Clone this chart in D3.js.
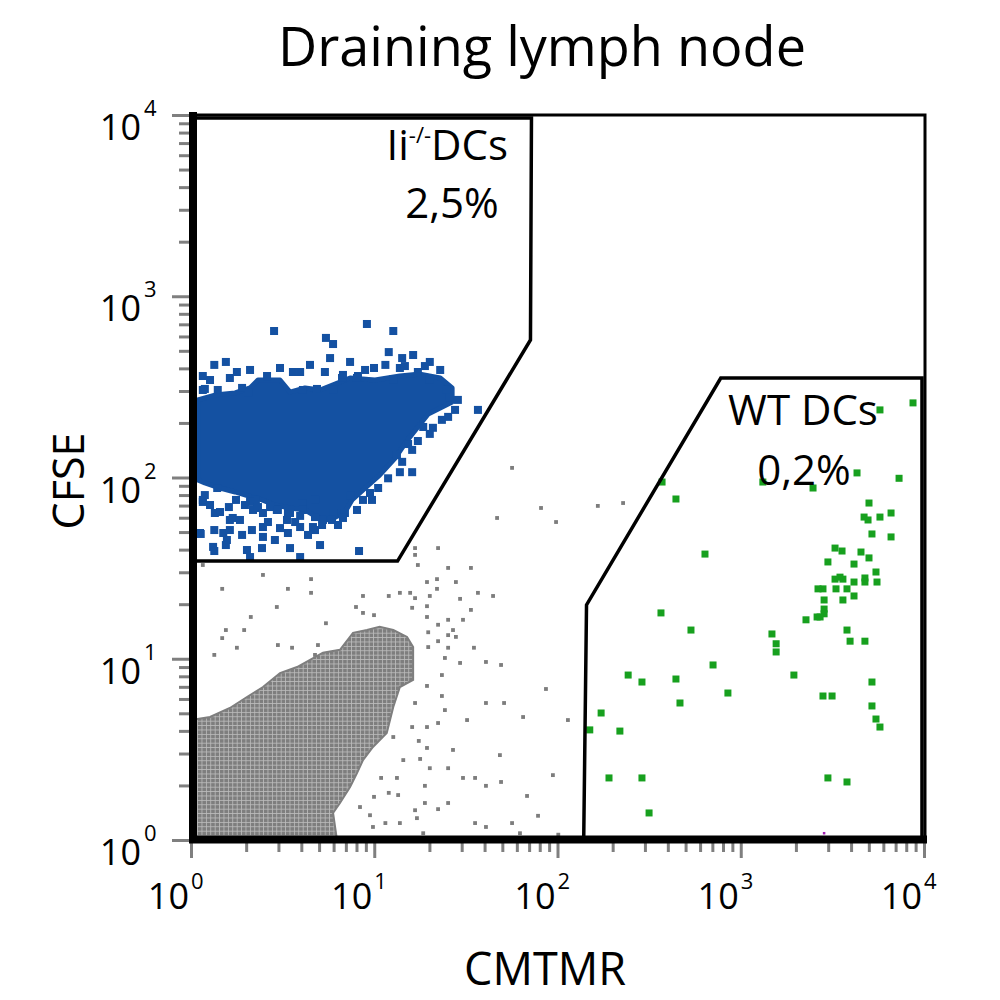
<!DOCTYPE html>
<html><head><meta charset="utf-8">
<script src="https://cdn.jsdelivr.net/npm/d3@7"></script>
<style>body{margin:0;background:#fff}</style>
</head><body>
<svg id="chart" width="1000" height="1000"></svg>
<script>
// ---------- DATA ----------
const decades = [1, 10, 100, 1000, 10000];
const decadeExponents = ["0", "1", "2", "3", "4"];
const chartTitle = "Draining lymph node";
const xTitle = "CMTMR";
const yTitle = "CFSE";

// Gates (CMTMR, CFSE)
const iiGateCMTMR = [1, 72.1, 71.2, 13.4, 1];
const iiGateCFSE  = [9620, 9620, 574, 34.6, 34.6];
const wtGateCMTMR = [139, 144, 778, 9750, 9750];
const wtGateCFSE  = [1, 19.8, 354, 354, 1];

// Dense unlabelled population (outline of the saturated region)
const negCoreCMTMR = [1, 1, 1.27, 1.63, 2.02, 2.47, 3.06, 3.79, 5.25, 6.50, 7.66, 9.12, 10.7, 12.7, 15.1, 16.3, 16.3, 13.8, 12.7, 11.7, 9.84, 8.68, 8.05, 7.38, 6.50, 5.96, 6.26];
const negCoreCFSE  = [1, 4.59, 4.77, 5.35, 6.15, 6.98, 8.34, 9.00, 10.8, 11.2, 13.9, 14.4, 15.0, 14.4, 13.2, 11.6, 7.64, 6.98, 5.42, 3.89, 3.26, 2.76, 2.34, 1.96, 1.60, 1.41, 1];

// Scattered unlabelled events
const negCMTMR = [2.47,1.48,4.52,3.38,4.52,2.94,2.12,1.55,1.95,1.48,1.78,1.34,2.98,3.56,4.75,4.93,5.45,16.7,22.3,16.7,17.3,25.3,33.7,19.4,22.0,27.9,22.0,36.8,44.5,8.68,12.0,13.8,15.7,16.7,20.1,29.4,7.95,8.68,16.1,19.4,33.7,9.97,19.4,30.5,25.3,22.3,26.9,19.7,22.3,25.3,27.9,25.3,35.0,19.7,24.3,29.4,40.7,49.2,23.4,19.4,23.4,16.7,24.3,40.7,51.1,64.9,86.5,114,32.1,22.3,19.4,16.1,12.7,17.5,19.4,26.9,48.5,14.4,17.8,20.1,25.3,30.5,35.5,94.4,40.7,49.2,13.3,10.9,18.9,12.0,13.5,9.97,68.2,25.3,22.3,18.9,16.7,17.1,78.3,35.5,40.7,56.5,13.8,11.5,9.84,18.5,62.4,101,8.36,9.48,46.8,1.16,56.5,81.3,98.2,166,228];
const negCFSE  = [29.0,24.3,27.5,24.3,23.1,19.3,17.0,14.4,14.4,13.0,11.5,10.5,11.9,11.5,10.5,11.9,15.7,40.8,40.8,37.4,32.9,31.7,31.7,26.5,27.5,26.5,24.3,23.1,22.2,22.2,22.2,23.1,23.1,21.6,22.2,21.4,19.3,17.9,19.1,19.5,18.6,17.4,17.0,16.4,16.4,15.4,14.4,14.0,12.5,13.5,13.2,11.5,11.5,11.6,10.1,9.48,9.60,9.24,8.13,7.08,6.23,5.70,5.21,5.70,5.70,4.77,6.81,4.59,4.59,4.42,4.20,4.20,3.70,3.52,3.22,3.14,2.94,2.76,2.80,2.49,2.49,2.20,2.20,2.28,1.99,2.09,2.20,2.20,1.99,1.82,1.77,1.73,1.75,1.60,1.48,1.60,1.46,1.32,1.36,1.24,1.18,1.24,1.24,1.24,1.18,1.09,1.09,1.07,1.52,1.37,59.8,32.9,113,67.9,56.8,69.7,72.3];

// Ii-/- DCs: dense core outline + individual events
const iiCoreCMTMR = [1.09,1.35,1.74,2.10,2.32,3.06,3.47,4.19,5.06,6.11,7.38,10.1,13.8,17.8,22.9,26.6,26.6,22.9,19.7,17.3,14.9,13.0,10.7,8.91,7.56,6.92,5.74,4.93,4.19,3.47,2.87,2.44,2.05,1.74,1.44,1.19,1.09];
const iiCoreCFSE  = [268,285,293,312,345,345,296,312,304,328,354,345,363,372,354,312,261,242,224,190,157,128,103,87.5,75.2,64.5,58.3,59.8,66.2,67.9,70.5,75.2,79.1,83.2,87.5,93.3,96.9];
const iiCMTMR = [9.12,2.84,12.7,5.45,5.96,12.0,14.2,16.3,20.1,1.55,1.34,9.97,13.8,17.3,1.16,1.78,2.60,3.60,5.38,6.67,8.15,12.7,20.1,1.16,1.40,1.90,4.87,24.9,25.6,36.8,25.3,20.1,18.5,15.3,17.3,13.3,13.8,16.1,9.48,7.46,1.16,1.39,1.61,2.26,2.29,2.94,4.08,4.75,5.96,5.88,1.35,1.63,1.12,1.34,1.50,1.63,1.57,1.32,1.34,2.15,2.47,2.47,3.38,3.94,4.63,4.75,5.25,2.02,2.10,3.94,8.26,3.38,3.34,6.75,8.05,1.19,1.16,1.69,1.13,1.55,2.70,4.08,4.75,6.92,
  2.07,4.08,5.96,2.10,2.18,2.32,2.47,2.98,3.47,3.94,5.19,6.34,6.75,8.05,8.68,1.76,1.97,1.19,1.27,1.44,1.85,2.63,3.06,3.70,4.35,2.87,1.90,5.06,3.47,2.44,
  1.27,1.63,2.10,3.06,3.94,4.46,5.74,7.38,8.91,11.5,14.7,18.9,22.9,28.6,27.6,23.4,20.9,16.1,14.2,11.9,10.5,9.72];
const iiCFSE  = [703,643,643,589,545,492,456,474,434,434,418,402,402,382,363,382,363,382,382,354,363,349,349,304,304,312,308,304,278,236,216,174,190,153,159,133,107,107,82.1,79.1,73.3,87.5,68.7,75.2,67.9,66.2,72.3,75.2,63.7,58.3,63.7,58.3,49.4,51.3,49.4,51.3,45.2,41.4,39.3,51.3,53.3,47.0,49.4,53.3,53.3,51.3,58.3,39.8,36.4,36.4,39.3,63.7,58.3,368,354,308,75.2,59.8,48.8,42.4,68.7,66.2,60.5,63.7,
  296,304,304,73.3,66.2,68.7,63.7,66.2,63.7,61.4,54.7,54.7,59.8,66.2,75.2,75.2,70.5,80.0,70.5,64.5,58.3,56.8,52.6,56.8,48.2,45.2,48.2,42.4,40.8,40.8,
  345,354,392,402,382,418,456,434,392,418,412,412,392,268,236,208,188,142,122,99.0,87.5,75.2];

// WT DCs
const wtCMTMR = [8710,5750,4310,7310,1320,2480,372,443,5010,4710,4950,5750,6610,5200,6610,638,3270,3570,4530,5010,2990,4150,5470,3480,3270,3610,4150,4760,4760,5540,2810,2640,3310,3800,2850,3610,4150,2850,2850,2610,2710,2270,367,535,3800,1480,1560,1560,3950,4760,706,243,1950,289,443,5200,851,466,2810,3150,173,5200,5470,5750,219,150,191,289,2990,3800,316];
const wtCFSE  = [258,236,106,99,94.4,87.5,94.4,76.1,72.3,60.5,58.3,60.5,63.7,48.8,47.0,37.8,40.8,39.3,38.8,36.0,34.2,33.3,30.1,28.2,27.5,27.5,26.5,27.9,26.5,26.5,24.3,24.3,24.3,24.3,21.1,21.1,22.2,18.8,17.7,17.0,17.0,16.4,17.9,14.4,14.4,13.7,12.1,10.9,12.5,12.5,9.24,8.13,8.13,7.44,7.73,7.44,6.47,5.70,6.23,6.23,5.02,5.49,4.65,4.20,3.99,4.05,2.20,2.20,2.20,2.09,1.41];

// Other event
const otherCMTMR = [2850];
const otherCFSE  = [1.09];

// ---------- DRAWING ----------
const FONT = "'Open Sans','Noto Sans',sans-serif";
const svg = d3.select("#chart");
const x = d3.scaleLog().domain([1, 1e4]).range([191, 924]);
const y = d3.scaleLog().domain([1, 1e4]).range([840, 115]);
const zip = (a, b) => a.map((v, i) => [v, b[i]]);

const defs = svg.append("defs");
defs.append("clipPath").attr("id", "plotclip")
  .append("rect").attr("x", x(1)).attr("y", y(1e4))
  .attr("width", x(1e4) - x(1)).attr("height", y(1) - y(1e4));
const pat = defs.append("pattern").attr("id", "grid")
  .attr("patternUnits", "userSpaceOnUse").attr("width", 4.4).attr("height", 4.4);
pat.append("rect").attr("width", 4.4).attr("height", 4.4).attr("fill", "#bdbdbd");
pat.append("rect").attr("width", 3.6).attr("height", 3.6).attr("fill", "#7e7e7e");

const closed = d3.line().x(d => x(d[0])).y(d => y(d[1])).curve(d3.curveLinearClosed);
const plot = svg.append("g").attr("clip-path", "url(#plotclip)");

function squares(g, data, size, color) {
  g.selectAll(null).data(data).enter().append("rect")
    .attr("x", d => x(d[0]) - size / 2).attr("y", d => y(d[1]) - size / 2)
    .attr("width", size).attr("height", size).attr("fill", color);
}

// unlabelled population
plot.append("path").datum(zip(negCoreCMTMR, negCoreCFSE))
  .attr("d", closed).attr("fill", "url(#grid)").attr("stroke", "#7e7e7e").attr("stroke-width", 2);
squares(plot.append("g"), zip(negCMTMR, negCFSE), 3.8, "#7d7d7d");

// Ii-/- DCs
const blue = "#1451a2";
plot.append("path").datum(zip(iiCoreCMTMR, iiCoreCFSE))
  .attr("d", closed).attr("fill", blue).attr("stroke", blue).attr("stroke-width", 5).attr("stroke-linejoin", "round");
squares(plot.append("g"), zip(iiCMTMR, iiCFSE), 8, blue);

// WT DCs
squares(plot.append("g"), zip(wtCMTMR, wtCFSE), 7, "#17a01e");
squares(plot.append("g"), zip(otherCMTMR, otherCFSE), 2.5, "#a020b0");

// gates
plot.append("path").datum(zip(iiGateCMTMR, iiGateCFSE))
  .attr("d", closed).attr("fill", "none").attr("stroke", "#000").attr("stroke-width", 3.5);
plot.append("path").datum(zip(wtGateCMTMR, wtGateCFSE))
  .attr("d", closed).attr("fill", "none").attr("stroke", "#000").attr("stroke-width", 3.5);

// axes ticks
const allTicks = x.ticks();
const minor = allTicks.filter(v => !decades.includes(v));
function styleAxis(g) {
  g.select(".domain").remove();
  g.selectAll(".tick line").attr("stroke", "#7f7f7f").attr("stroke-width", 3);
}
svg.append("g").attr("transform", "translate(0,843)")
  .call(d3.axisBottom(x).tickValues(minor).tickSize(9).tickFormat("")).call(styleAxis);
svg.append("g").attr("transform", "translate(0,841)")
  .call(d3.axisBottom(x).tickValues(decades).tickSize(17).tickFormat("")).call(styleAxis);
svg.append("g").attr("transform", "translate(189,0)")
  .call(d3.axisLeft(y).tickValues(minor).tickSize(10).tickFormat("")).call(styleAxis);
svg.append("g").attr("transform", "translate(191,0)")
  .call(d3.axisLeft(y).tickValues(decades).tickSize(19).tickFormat("")).call(styleAxis);

// frame
svg.append("path")
  .attr("d", `M${x(1)},${y(1e4)}H${x(1e4) + 1}V${y(1)}`)
  .attr("fill", "none").attr("stroke", "#000").attr("stroke-width", 3);
svg.append("path")
  .attr("d", `M${x(1) + 2},${y(1e4) - 3}V${y(1) - 0.5}H${x(1e4) + 3}`)
  .attr("fill", "none").attr("stroke", "#000").attr("stroke-width", 8);

// tick labels
const tl = svg.append("g").attr("font-family", FONT).attr("fill", "#000");
decades.forEach((d, i) => {
  tl.append("text").attr("x", x(d) - 2).attr("y", 909).attr("text-anchor", "end")
    .attr("font-size", 36).text("10");
  tl.append("text").attr("x", x(d)).attr("y", 889).attr("font-size", 22).text(decadeExponents[i]);
  tl.append("text").attr("x", 141).attr("y", y(d) + 25).attr("text-anchor", "end")
    .attr("font-size", 36).text("10");
  tl.append("text").attr("x", 144).attr("y", y(d) + 1).attr("font-size", 22).text(decadeExponents[i]);
});

// titles
svg.append("text").attr("x", 542).attr("y", 66).attr("text-anchor", "middle")
  .attr("font-family", FONT).attr("font-size", 54).text(chartTitle);
svg.append("text").attr("x", 545).attr("y", 985).attr("text-anchor", "middle")
  .attr("font-family", FONT).attr("font-size", 45).text(xTitle);
svg.append("text").attr("transform", "translate(84,481) rotate(-90)").attr("text-anchor", "middle")
  .attr("font-family", FONT).attr("font-size", 43).text(yTitle);

// gate labels
const gl = svg.append("g").attr("font-family", FONT).attr("font-size", 42).attr("fill", "#000");
const t1 = gl.append("text").attr("x", 508).attr("y", 160).attr("text-anchor", "end");
t1.append("tspan").text("Ii");
t1.append("tspan").attr("font-size", 22).attr("dy", -17).text("-/-");
t1.append("tspan").attr("dy", 17).text("DCs");
gl.append("text").attr("x", 452).attr("y", 218).attr("text-anchor", "middle").text("2,5%");
gl.append("text").attr("x", 803).attr("y", 425).attr("text-anchor", "middle").text("WT DCs");
gl.append("text").attr("x", 804).attr("y", 485).attr("text-anchor", "middle").text("0,2%");
</script>
</body></html>
